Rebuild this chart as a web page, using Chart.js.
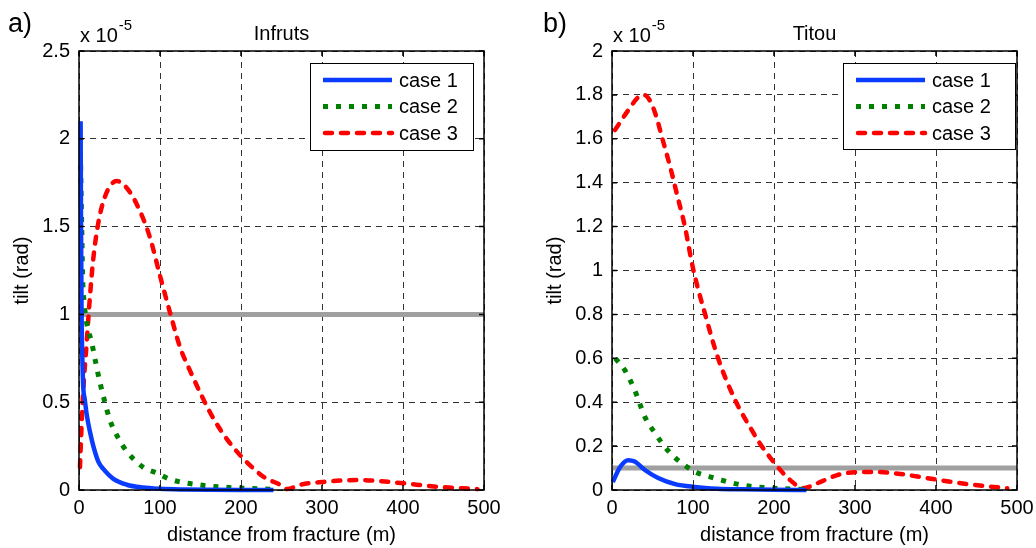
<!DOCTYPE html>
<html>
<head>
<meta charset="utf-8">
<script src="https://cdn.jsdelivr.net/npm/chart.js@4.4.1/dist/chart.umd.min.js"></script>
<style>
  html, body { margin: 0; padding: 0; background: #fff; }
  #wrap { position: relative; width: 1036px; height: 548px; overflow: hidden; }
  canvas { position: absolute; top: 0; }
  #left { left: 0; }
  #right { left: 518px; }
</style>
</head>
<body>
<div id="wrap">
  <canvas id="left" width="518" height="548"></canvas>
  <canvas id="right" width="518" height="548"></canvas>
</div>
<script>
// tilt values are in units of 1e-5 rad (axis shows "x 10^-5")
const xTicks = [0, 100, 200, 300, 400, 500];
const infrutsYTicks = [0, 0.5, 1, 1.5, 2, 2.5];
const titouYTicks = [0, 0.2, 0.4, 0.6, 0.8, 1, 1.2, 1.4, 1.6, 1.8, 2];
const caseLabels = ['case 1', 'case 2', 'case 3'];

// a) Infruts
const infrutsX1 = [2, 2.5, 3.2, 4.3, 5.3, 7, 9.5, 13.6, 17.7, 24, 30, 42, 59, 79, 100, 130, 160, 200, 240];
const infrutsCase1 = [2.1, 1.5, 1.0, 0.72, 0.58, 0.52, 0.43, 0.33, 0.25, 0.16, 0.12, 0.065, 0.03, 0.014, 0.007, 0.003, 0.001, 0, 0];
const infrutsX2 = [2, 3.3, 4.5, 6.6, 9.5, 15.7, 20, 26, 32, 38, 48, 59, 79, 96, 113, 150, 190, 240];
const infrutsCase2 = [1.85, 1.52, 1.21, 1.06, 0.95, 0.84, 0.74, 0.61, 0.50, 0.40, 0.30, 0.22, 0.13, 0.097, 0.06, 0.028, 0.013, 0.004];
const infrutsX3 = [1.2, 3.3, 5.3, 9.5, 13.5, 17.7, 23.8, 32, 46.5, 59, 71, 87.5, 100, 113, 125, 137, 150, 162, 175, 191, 208, 228, 249, 257, 273, 302, 344, 397, 438, 492];
const infrutsCase3 = [0.13, 0.38, 0.57, 0.84, 1.1, 1.32, 1.52, 1.67, 1.76, 1.72, 1.63, 1.44, 1.22, 1.0, 0.81, 0.68, 0.55, 0.44, 0.34, 0.24, 0.155, 0.075, 0.028, 0.005, 0.03, 0.046, 0.057, 0.04, 0.02, 0.005];
const infrutsLimit = 1;

// b) Titou
const titouX1 = [1, 10, 20, 28, 41, 57, 78, 102, 130, 160, 200, 240];
const titouCase1 = [0.036, 0.105, 0.136, 0.13, 0.09, 0.055, 0.027, 0.014, 0.006, 0.003, 0.001, 0];
const titouX2 = [4, 16, 28, 41, 53, 69, 99, 127, 160, 200, 240];
const titouCase2 = [0.60, 0.545, 0.455, 0.33, 0.26, 0.18, 0.09, 0.054, 0.023, 0.008, 0.002];
const titouX3 = [3.7, 20, 32.5, 38.7, 45, 53, 63, 72, 80, 90, 100, 115, 131, 152, 173, 183, 199, 220, 236, 253, 278, 306, 327, 356, 396, 438, 488];
const titouCase3 = [1.64, 1.73, 1.79, 1.80, 1.785, 1.72, 1.59, 1.47, 1.35, 1.20, 1.01, 0.80, 0.60, 0.41, 0.27, 0.21, 0.13, 0.045, 0.008, 0.03, 0.068, 0.082, 0.082, 0.073, 0.05, 0.027, 0.008];
const titouLimit = 0.1;

const FONT = '"Liberation Sans", Arial, Helvetica, sans-serif';
Chart.defaults.font.family = FONT;
Chart.defaults.font.size = 20;
Chart.defaults.color = '#000';

const styles = [
  { color: '#0a3cff', width: 4.5, dash: [], cap: 'butt' },
  { color: '#008000', width: 5, dash: [5, 8], cap: 'butt' },
  { color: '#ff0000', width: 4.5, dash: [7, 9], cap: 'round' }
];

const pts = (xs, ys) => xs.map((x, i) => ({ x: x, y: ys[i] }));

// titles, frame, inward ticks and the boxed legend
const panelDeco = {
  id: 'panelDeco',
  afterDatasetsDraw(chart, args, o) {
    const ctx = chart.ctx;
    const a = chart.chartArea;
    const sx = chart.scales.x, sy = chart.scales.y;
    ctx.save();
    ctx.strokeStyle = '#000';
    ctx.lineWidth = 1.5;
    ctx.strokeRect(a.left, a.top, a.right - a.left, a.bottom - a.top);
    ctx.beginPath();
    sx.ticks.forEach(t => {
      const p = sx.getPixelForValue(t.value);
      ctx.moveTo(p, a.bottom); ctx.lineTo(p, a.bottom - 5);
      ctx.moveTo(p, a.top); ctx.lineTo(p, a.top + 5);
    });
    sy.ticks.forEach(t => {
      const p = sy.getPixelForValue(t.value);
      ctx.moveTo(a.left, p); ctx.lineTo(a.left + 5, p);
      ctx.moveTo(a.right, p); ctx.lineTo(a.right - 5, p);
    });
    ctx.stroke();

    // legend
    const L = o.legend;
    ctx.fillStyle = '#fff';
    ctx.fillRect(L.x, L.y, L.w, L.h);
    ctx.lineWidth = 1;
    ctx.strokeRect(L.x + 0.5, L.y + 0.5, L.w, L.h);
    chart.data.datasets.slice(0, 3).forEach((ds, i) => {
      const y = L.y + 17 + i * 26.5;
      ctx.save();
      ctx.strokeStyle = ds.borderColor;
      ctx.lineWidth = ds.borderWidth;
      ctx.lineCap = ds.borderCapStyle;
      ctx.setLineDash(ds.borderDash);
      ctx.beginPath();
      ctx.moveTo(L.x + 13 + (ds.borderCapStyle === 'round' ? 2 : 0), y);
      ctx.lineTo(L.x + 82, y);
      ctx.stroke();
      ctx.restore();
      ctx.fillStyle = '#000';
      ctx.font = '20px ' + FONT;
      ctx.textBaseline = 'middle';
      ctx.textAlign = 'left';
      ctx.fillText(ds.label, L.x + 89, y + 1);
    });
    ctx.restore();
  },
  afterDraw(chart, args, o) {
    const ctx = chart.ctx;
    const a = chart.chartArea;
    const cx = (a.left + a.right) / 2;
    ctx.save();
    ctx.fillStyle = '#000';
    ctx.textBaseline = 'alphabetic';
    ctx.font = '27px ' + FONT;
    ctx.textAlign = 'left';
    ctx.fillText(o.letter, o.letterX, 32);
    ctx.font = '20px ' + FONT;
    ctx.fillText('x 10', a.left + 1, 42);
    const w = ctx.measureText('x 10').width;
    ctx.font = '15px ' + FONT;
    ctx.fillText('-5', a.left + 2 + w, 30);
    ctx.font = '20px ' + FONT;
    ctx.textAlign = 'center';
    ctx.fillText(o.title, cx, 40);
    ctx.fillText('distance from fracture (m)', cx, 541);
    ctx.translate(o.yTitleX, (a.top + a.bottom) / 2);
    ctx.rotate(-Math.PI / 2);
    ctx.textBaseline = 'middle';
    ctx.fillText('tilt (rad)', 0, 0);
    ctx.restore();
  }
};

function makePanel(id, cfg) {
  const datasets = cfg.series.map((s, i) => ({
    label: caseLabels[i],
    data: pts(s[0], s[1]),
    borderColor: styles[i].color,
    borderWidth: styles[i].width,
    borderDash: styles[i].dash,
    borderCapStyle: styles[i].cap,
    cubicInterpolationMode: 'monotone',
    pointRadius: 0,
    clip: false
  }));
  datasets.push({
    label: 'limit',
    data: [{ x: 0, y: cfg.limit }, { x: 500, y: cfg.limit }],
    borderColor: '#a0a0a0',
    borderWidth: 5,
    pointRadius: 0
  });
  return new Chart(document.getElementById(id), {
    type: 'line',
    data: { datasets: datasets },
    options: {
      responsive: false,
      animation: false,
      events: [],
      layout: { padding: { top: 51, right: cfg.padRight, left: 0, bottom: 0 } },
      plugins: {
        legend: { display: false },
        tooltip: { enabled: false },
        panelDeco: { letter: cfg.letter, letterX: cfg.letterX, title: cfg.title, yTitleX: cfg.yTitleX, legend: cfg.legend }
      },
      scales: {
        x: {
          type: 'linear', min: 0, max: 500,
          afterFit: s => { s.height = 58; s.paddingLeft = 0; s.paddingRight = 0; },
          afterBuildTicks: s => { s.ticks = xTicks.map(v => ({ value: v })); },
          ticks: { padding: 6, callback: v => String(v), maxRotation: 0 },
          grid: { color: 'rgba(0,0,0,0.8)', lineWidth: 1, drawTicks: false },
          border: { display: false, dash: [6, 5] }
        },
        y: {
          type: 'linear', min: 0, max: cfg.yTicks[cfg.yTicks.length - 1],
          afterFit: s => { s.width = cfg.yWidth; s.paddingTop = 0; s.paddingBottom = 0; },
          afterBuildTicks: s => { s.ticks = cfg.yTicks.map(v => ({ value: v })); },
          ticks: { padding: 9, callback: v => String(v) },
          grid: { color: 'rgba(0,0,0,0.8)', lineWidth: 1, drawTicks: false },
          border: { display: false, dash: [6, 5] }
        }
      }
    },
    plugins: [panelDeco]
  });
}

makePanel('left', {
  series: [[infrutsX1, infrutsCase1], [infrutsX2, infrutsCase2], [infrutsX3, infrutsCase3]],
  limit: infrutsLimit, yTicks: infrutsYTicks, yWidth: 79, padRight: 34,
  letter: 'a)', letterX: 8, title: 'Infruts', yTitleX: 22,
  legend: { x: 310, y: 63, w: 163, h: 87 }
});

makePanel('right', {
  series: [[titouX1, titouCase1], [titouX2, titouCase2], [titouX3, titouCase3]],
  limit: titouLimit, yTicks: titouYTicks, yWidth: 94, padRight: 19,
  letter: 'b)', letterX: 25, title: 'Titou', yTitleX: 37,
  legend: { x: 325, y: 63, w: 172, h: 86 }
});
</script>
</body>
</html>
